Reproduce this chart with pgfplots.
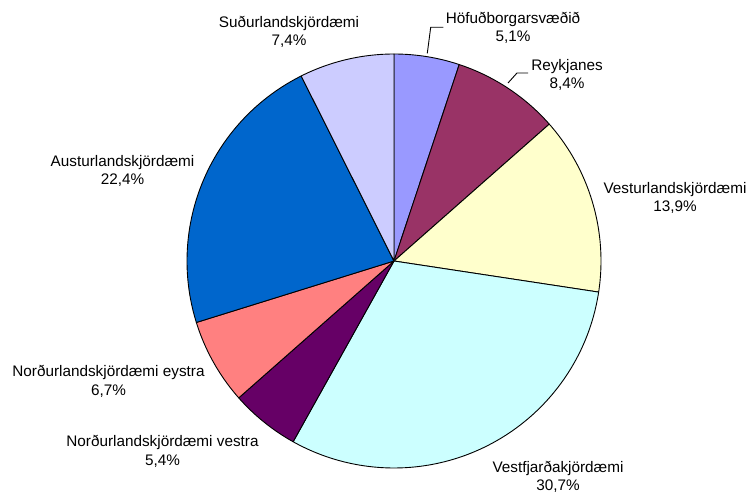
\documentclass[border=0pt]{standalone}
\usepackage{pgfplots}
\pgfplotsset{compat=1.18}
\usepackage{fontspec}
\setmainfont{Liberation Sans}
\definecolor{cHof}{HTML}{9999FF}
\definecolor{cRey}{HTML}{993366}
\definecolor{cVes}{HTML}{FFFFCC}
\definecolor{cVfj}{HTML}{CCFFFF}
\definecolor{cNvs}{HTML}{660066}
\definecolor{cNey}{HTML}{FF8080}
\definecolor{cAus}{HTML}{0066CC}
\definecolor{cSud}{HTML}{CCCCFF}
\tikzset{lbl/.style={font=\fontsize{15.3}{18.5}\selectfont, align=center, text=black, inner sep=0pt}}
% #1 = cumulative percent before slice, #2 = slice percent, #3 = colour
\newcommand\pieslice[3]{%
  \addplot[fill=#3,draw=black,line width=0.9pt,line join=round,
    domain={90-3.6*(#1+#2)}:{90-3.6*(#1)},samples=80,variable=\t]
    ({394+207*cos(t)},{232+207*sin(t)}) -- (394,232) -- cycle;}
\begin{document}
\begin{tikzpicture}
\begin{axis}[
  width=750pt, height=493pt, scale only axis,
  xmin=0, xmax=750, ymin=0, ymax=493,
  hide axis, clip=false]
\path (rel axis cs:0,0) rectangle (rel axis cs:1,1);
\pieslice{0}{5.1}{cHof}
\pieslice{5.1}{8.4}{cRey}
\pieslice{13.5}{13.9}{cVes}
\pieslice{27.4}{30.7}{cVfj}
\pieslice{58.1}{5.4}{cNvs}
\pieslice{63.5}{6.7}{cNey}
\pieslice{70.2}{22.4}{cAus}
\pieslice{92.6}{7.4}{cSud}
% leader lines
\addplot[black, line width=0.9pt] coordinates {(427.3,439.7) (430.7,465.7) (443.3,465.7)};
\addplot[black, line width=0.9pt] coordinates {(508,410) (517,420) (528,420)};
% labels
\node[lbl] at (513,465) {Höfuðborgarsvæðið\\5,1\%};
\node[lbl] at (567,418) {Reykjanes\\8,4\%};
\node[lbl] at (675,295) {Vesturlandskjördæmi\\13,9\%};
\node[lbl] at (558,16) {Vestfjarðakjördæmi\\30,7\%};
\node[lbl] at (162.5,41.5) {Norðurlandskjördæmi vestra\\5,4\%};
\node[lbl] at (108.5,111.7) {Norðurlandskjördæmi eystra\\6,7\%};
\node[lbl] at (122.5,322) {Austurlandskjördæmi\\22,4\%};
\node[lbl] at (289,461) {Suðurlandskjördæmi\\7,4\%};
\end{axis}
\end{tikzpicture}
\end{document}
